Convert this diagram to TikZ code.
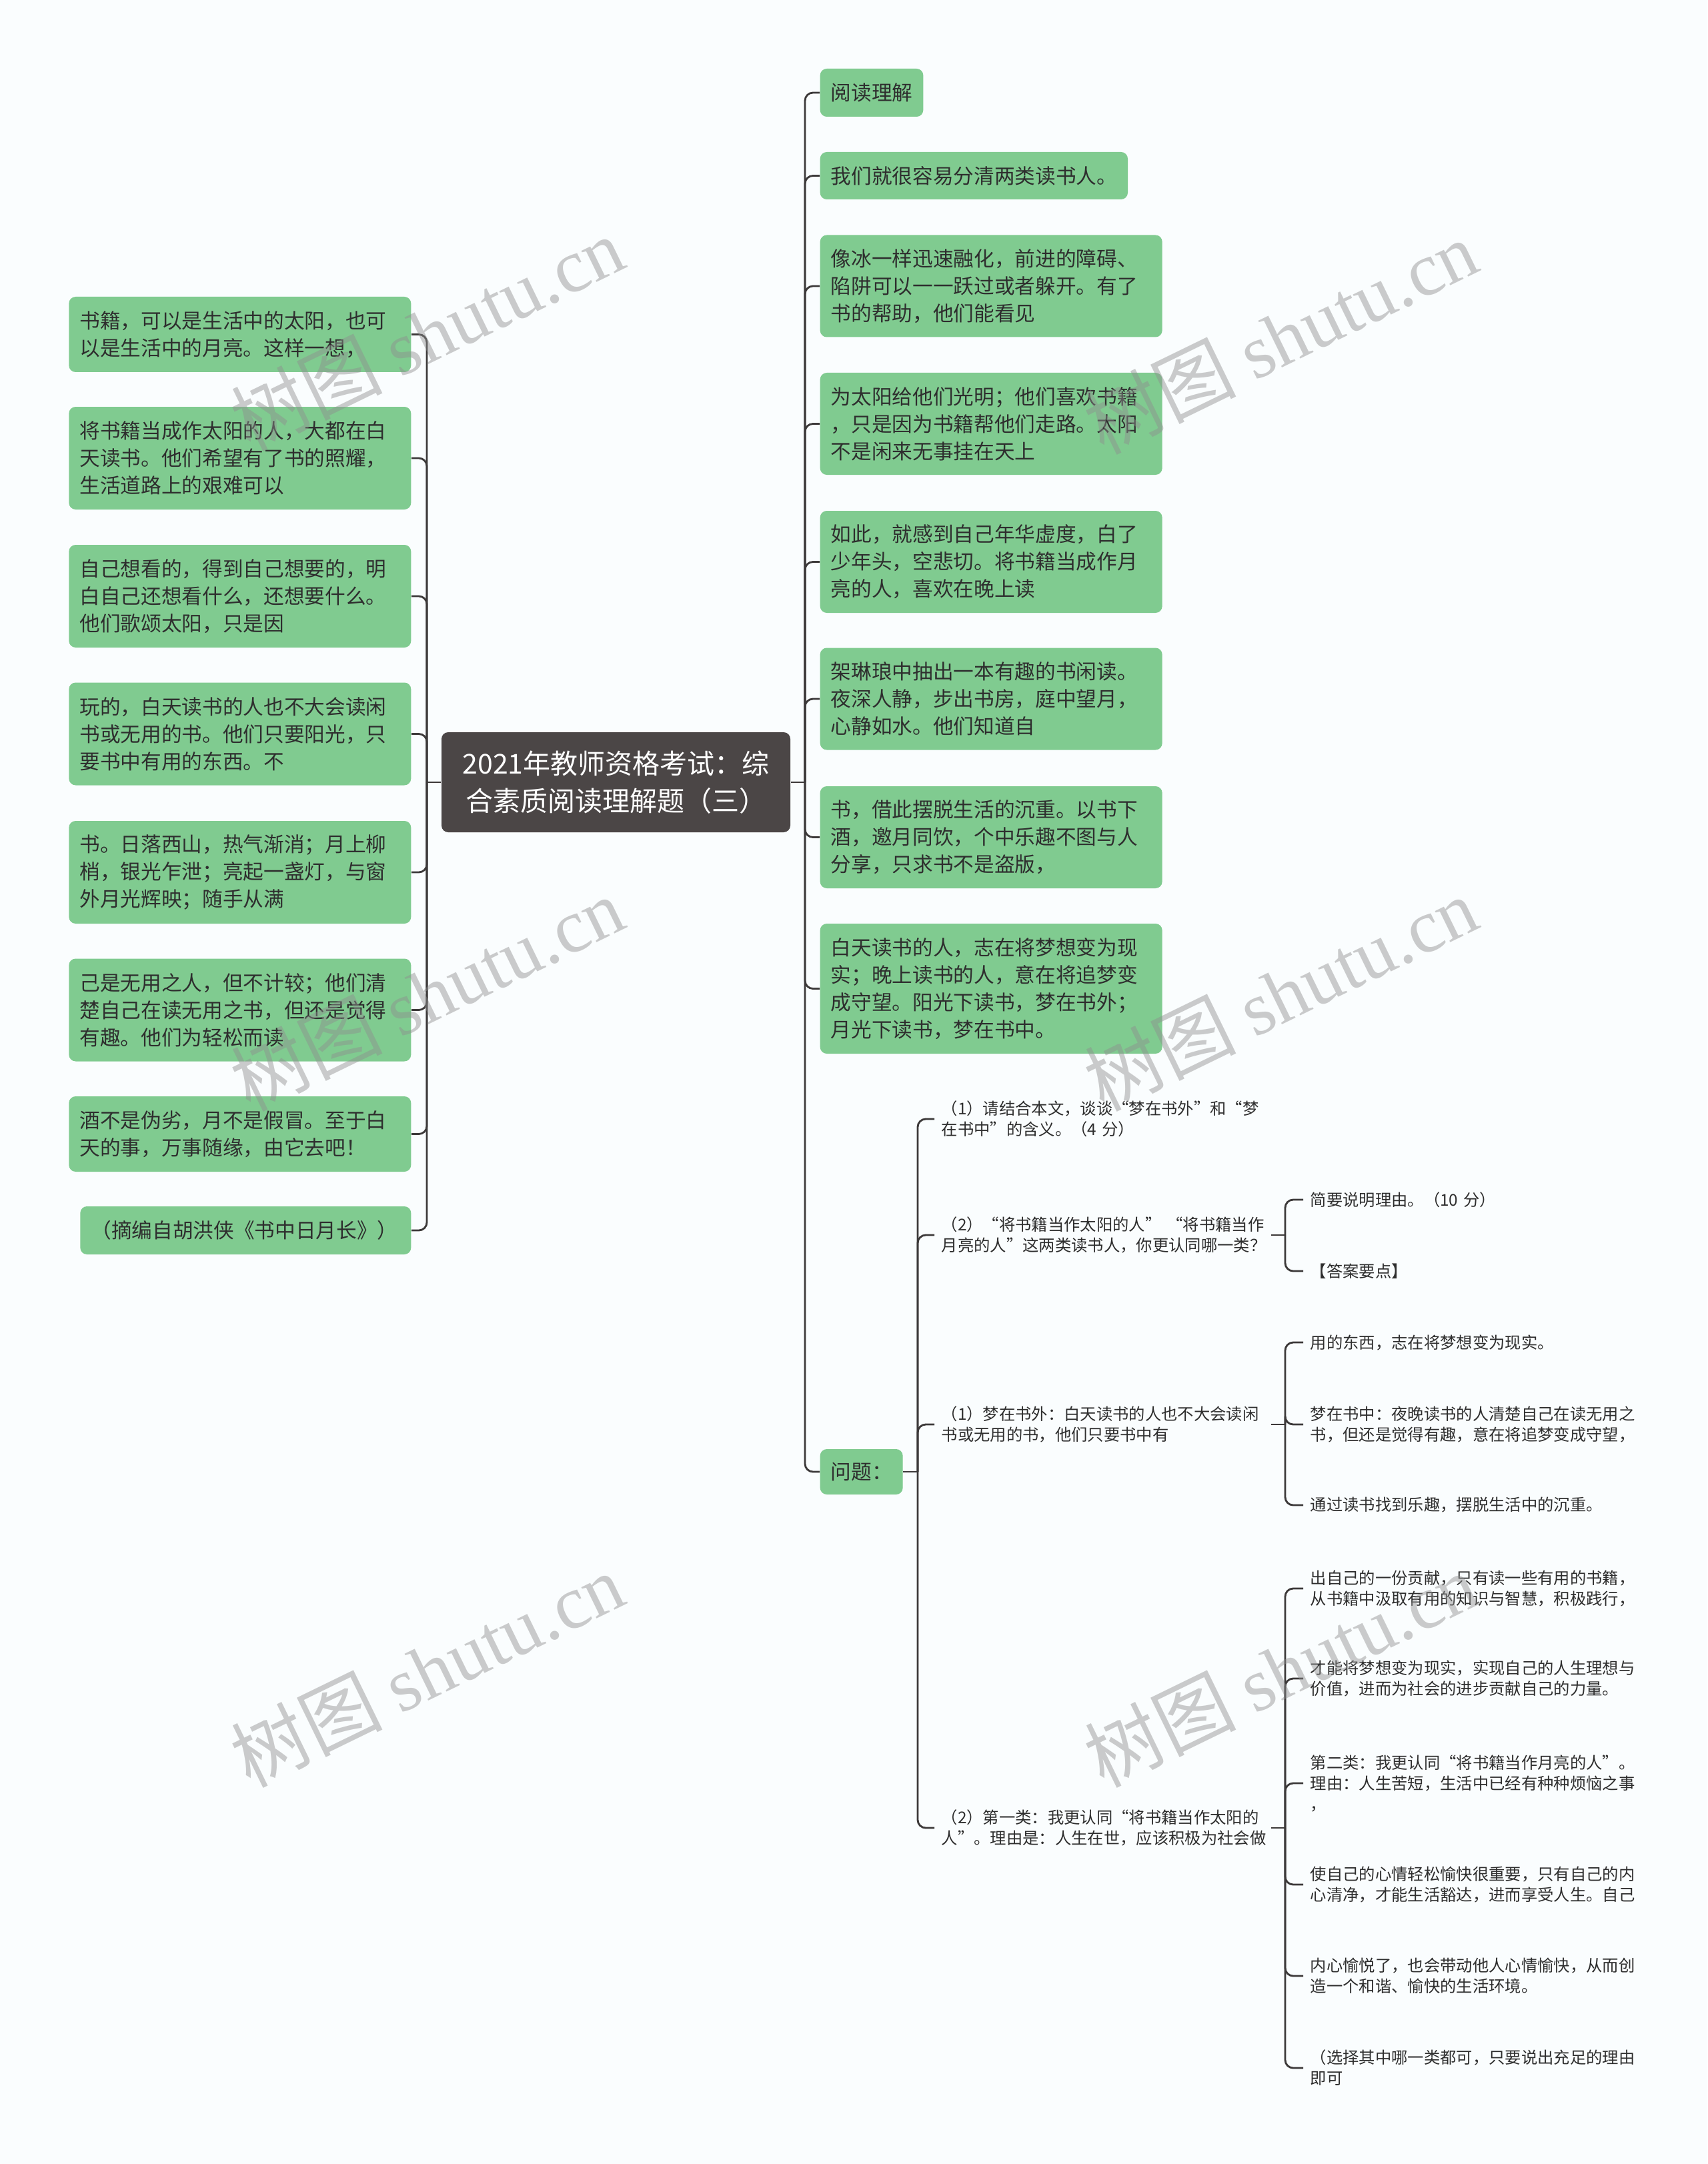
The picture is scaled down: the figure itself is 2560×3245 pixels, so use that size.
\documentclass[tikz,border=0pt]{standalone}
\usepackage{fontspec}
\setmainfont{Noto Sans CJK SC}
\newfontfamily\wmlatin{Liberation Serif}
\definecolor{paper}{HTML}{FAFDFE}
\definecolor{leafgreen}{HTML}{80CB90}
\definecolor{rootgray}{HTML}{4B4646}
\definecolor{linegray}{HTML}{3C3939}
\definecolor{inkgray}{HTML}{2E2E2E}
\definecolor{wmgray}{HTML}{8E8E8E}

\begin{document}
\begin{tikzpicture}[x=0.3pt, y=-0.3pt,
  conn/.style={linegray, line width=0.85pt, rounded corners=3.6pt},
  rootbox/.style={fill=rootgray, text=white, rounded corners=3pt,
    minimum width=156.9pt, minimum height=45pt, text width=150pt,
    align=center, font=\fontsize{12.3pt}{16.8pt}\selectfont},
  leaf/.style={fill=leafgreen, text=inkgray, rounded corners=3pt,
    inner xsep=4.8pt, inner ysep=0pt, align=left,
    font=\fontsize{9.2pt}{12.3pt}\selectfont},
  leafwide/.style={leaf, text width=144.3pt},
  subtext/.style={text=inkgray, inner xsep=3pt, inner ysep=0pt, anchor=west,
    align=left, text width=145.2pt, font=\fontsize{7.3pt}{9.3pt}\selectfont},
  wmark/.style={text=wmgray, opacity=0.45, rotate=26,
    font=\fontsize{34pt}{34pt}\selectfont}]

% Background
\useasboundingbox (0,0) rectangle (2560,3245);
\fill[paper] (0,0) rectangle (2560,3245);

% Root
\node[rootbox] (root) at (923.5,1173)
  {2021年教师资格考试：综\\合素质阅读理解题（三）};

% ================================================================
% LEFT BRANCH
% ================================================================
\node[leafwide, anchor=east, minimum height=33.9pt] (L1) at (617,501.5)
  {书籍，可以是生活中的太阳，也可\\以是生活中的月亮。这样一想，};
\node[leafwide, anchor=east, minimum height=46.2pt] (L2) at (617,687)
  {将书籍当成作太阳的人，大都在白\\天读书。他们希望有了书的照耀，\\生活道路上的艰难可以};
\node[leafwide, anchor=east, minimum height=46.2pt] (L3) at (617,894)
  {自己想看的，得到自己想要的，明\\白自己还想看什么，还想要什么。\\他们歌颂太阳，只是因};
\node[leafwide, anchor=east, minimum height=46.2pt] (L4) at (617,1100.5)
  {玩的，白天读书的人也不大会读闲\\书或无用的书。他们只要阳光，只\\要书中有用的东西。不};
\node[leafwide, anchor=east, minimum height=46.2pt] (L5) at (617,1308)
  {书。日落西山，热气渐消；月上柳\\梢，银光乍泄；亮起一盏灯，与窗\\外月光辉映；随手从满};
\node[leafwide, anchor=east, minimum height=46.2pt] (L6) at (617,1514.5)
  {己是无用之人，但不计较；他们清\\楚自己在读无用之书，但还是觉得\\有趣。他们为轻松而读};
\node[leafwide, anchor=east, minimum height=33.9pt] (L7) at (617,1700.5)
  {酒不是伪劣，月不是假冒。至于白\\天的事，万事随缘，由它去吧！};
\node[leaf, text width=139.2pt, anchor=east, minimum height=21.6pt] (L8) at (617,1845)
  {（摘编自胡洪侠《书中日月长》）};

\coordinate (jL) at (640,1173);
\draw[conn] (root.west) -- (jL);
\foreach \n in {L1,L2,L3,L4,L5,L6,L7,L8}
  \draw[conn] (jL) |- (\n.east);

% ================================================================
% RIGHT BRANCH
% ================================================================
\node[leaf, anchor=west, minimum height=21.6pt] (R1) at (1229,139) {阅读理解};
\node[leaf, anchor=west, minimum height=21.3pt] (R2) at (1229,263.5)
  {我们就很容易分清两类读书人。};
\node[leafwide, anchor=west, minimum height=45.9pt] (R3) at (1229,429)
  {像冰一样迅速融化，前进的障碍、\\陷阱可以一一跃过或者躲开。有了\\书的帮助，他们能看见};
\node[leafwide, anchor=west, minimum height=45.9pt] (R4) at (1229,635.5)
  {为太阳给他们光明；他们喜欢书籍\\，只是因为书籍帮他们走路。太阳\\不是闲来无事挂在天上};
\node[leafwide, anchor=west, minimum height=45.9pt] (R5) at (1229,842.5)
  {如此，就感到自己年华虚度，白了\\少年头，空悲切。将书籍当成作月\\亮的人，喜欢在晚上读};
\node[leafwide, anchor=west, minimum height=45.9pt] (R6) at (1229,1048)
  {架琳琅中抽出一本有趣的书闲读。\\夜深人静，步出书房，庭中望月，\\心静如水。他们知道自};
\node[leafwide, anchor=west, minimum height=45.9pt] (R7) at (1229,1255.5)
  {书，借此摆脱生活的沉重。以书下\\酒，邀月同饮，个中乐趣不图与人\\分享，只求书不是盗版，};
\node[leafwide, anchor=west, minimum height=58.5pt] (R8) at (1229,1482.5)
  {白天读书的人，志在将梦想变为现\\实；晚上读书的人，意在将追梦变\\成守望。阳光下读书，梦在书外；\\月光下读书，梦在书中。};
\node[leaf, anchor=west, minimum height=20.4pt] (Q) at (1229,2207) {问题：};

\coordinate (jR) at (1207,1173);
\draw[conn] (root.east) -- (jR);
\foreach \n in {R1,R2,R3,R4,R5,R6,R7,R8,Q}
  \draw[conn] (jR) |- (\n.west);

% ================================================================
% QUESTIONS
% ================================================================
\node[subtext] (q1) at (1401,1678)
  {（1）请结合本文，谈谈“梦在书外”和“梦\\在书中”的含义。（4 分）};
\node[subtext] (q2) at (1401,1852)
  {（2）“将书籍当作太阳的人” “将书籍当作\\月亮的人”这两类读书人，你更认同哪一类？};
\node[subtext] (q3) at (1401,2136)
  {（1）梦在书外：白天读书的人也不大会读闲\\书或无用的书，他们只要书中有};
\node[subtext] (q4) at (1401,2741)
  {（2）第一类：我更认同“将书籍当作太阳的\\人”。理由是：人生在世，应该积极为社会做};

\coordinate (jQ) at (1376,2207);
\draw[conn] (Q.east) -- (jQ);
\foreach \n in {q1,q2,q3,q4}
  \draw[conn] (jQ) |- (\n.west);

% Answers
\node[subtext, text width=150pt] (a1) at (1954,1799) {简要说明理由。（10 分）};
\node[subtext, text width=150pt] (a2) at (1954,1906) {【答案要点】};

\node[subtext, text width=150pt] (b1) at (1954,2013) {用的东西，志在将梦想变为现实。};
\node[subtext, text width=150pt] (b2) at (1954,2136)
  {梦在书中：夜晚读书的人清楚自己在读无用之\\书，但还是觉得有趣，意在将追梦变成守望，};
\node[subtext, text width=150pt] (b3) at (1954,2257) {通过读书找到乐趣，摆脱生活中的沉重。};

\node[subtext, text width=150pt] (c1) at (1954,2382)
  {出自己的一份贡献，只有读一些有用的书籍，\\从书籍中汲取有用的知识与智慧，积极践行，};
\node[subtext, text width=150pt] (c2) at (1954,2517)
  {才能将梦想变为现实，实现自己的人生理想与\\价值，进而为社会的进步贡献自己的力量。};
\node[subtext, text width=150pt] (c3) at (1954,2674)
  {第二类：我更认同“将书籍当作月亮的人”。\\理由：人生苦短，生活中已经有种种烦恼之事\\，};
\node[subtext, text width=150pt] (c4) at (1954,2826)
  {使自己的心情轻松愉快很重要，只有自己的内\\心清净，才能生活豁达，进而享受人生。自己};
\node[subtext, text width=150pt] (c5) at (1954,2963)
  {内心愉悦了，也会带动他人心情愉快，从而创\\造一个和谐、愉快的生活环境。};
\node[subtext, text width=150pt] (c6) at (1954,3101)
  {（选择其中哪一类都可，只要说出充足的理由\\即可};

\coordinate (jA) at (1927,1852);
\draw[conn] (q2.east) -- (jA);
\foreach \n in {a1,a2}
  \draw[conn] (jA) |- (\n.west);

\coordinate (jB) at (1927,2136);
\draw[conn] (q3.east) -- (jB);
\foreach \n in {b1,b2,b3}
  \draw[conn] (jB) |- (\n.west);

\coordinate (jC) at (1927,2741);
\draw[conn] (q4.east) -- (jC);
\foreach \n in {c1,c2,c3,c4,c5,c6}
  \draw[conn] (jC) |- (\n.west);

% Watermarks
\foreach \wx/\wy [count=\k] in {640/500, 1920/505, 640/1490, 1920/1490, 640/2504, 1920/2504}
  \node[wmark] (wm\k) at (\wx,\wy) {树图 {\wmlatin shutu.cn}};

\end{tikzpicture}
\end{document}
